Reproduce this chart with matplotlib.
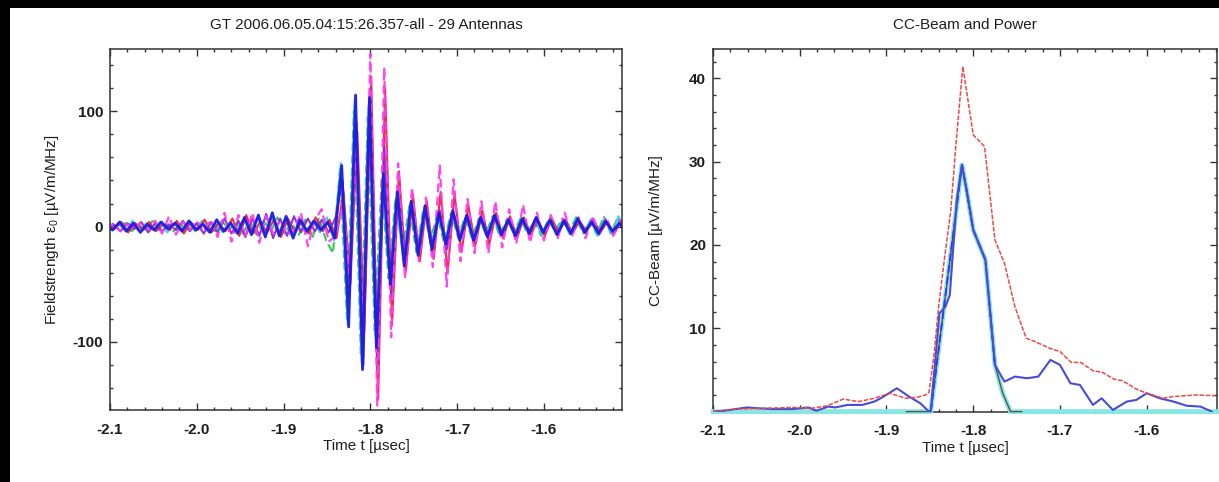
import numpy as np
import matplotlib
matplotlib.use("Agg")
import matplotlib.pyplot as plt
from matplotlib.ticker import MultipleLocator, FixedLocator
from matplotlib.patches import Rectangle

plt.rcParams['font.family'] = ['Liberation Sans', 'DejaVu Sans']
plt.rcParams['axes.unicode_minus'] = False
plt.rcParams['mathtext.default'] = 'regular'

# ---------------------------------------------------------------
# Antenna field strengths (µV/m/MHz), sampled at oscillation extrema
# ---------------------------------------------------------------
t_ant = np.round(-2.105 + 0.008 * np.arange(76), 3)

ant_blue = [2, -3, 4, -4, 3, -5, 2, -3, 4, -2, 3, -4, 5, -3, 2, -5,
            6, -4, 3, -6, 8, -7, 10, -9, 12, -8, 9, -10, 6, -4, 5, -3,
            4, -10, 53, -87, 114, -124, 112, -105, 46, -50, 30, -34,
            22, -25, 18, -20, 12, -15, 14, -12, 10, -12, 8, -9, 10, -7, 6, -8,
            7, -6, 8, -5, 6, -7, 5, -6, 7, -5, 4, -6, 5, -4, 3, -5]
ant_magenta = [-2, 3, -4, 2, -3, 4, -2, 5, -6, 9, -7, 4, -3, 5, -4, 6,
               -9, 12, -13, 10, -8, 12, -14, 9, -6, 5, -7, -4, 12, -17, 6, 15,
               -13, -8, 20, -40, 75, -95, 150, -155, 138, -96, 55, -45,
               34, -30, 25, -35, 53, -52, 41, -30, 24, -23, 22, -23, 22, -18, 15, -15,
               19, -14, 12, -12, 10, -10, 12, -9, 8, -10, 9, -7, 8, -8, 6, -6]
ant_red = [3, -2, 4, -5, 3, -2, 4, -4, 2, -3, 5, -6, 4, -3, 6, -5,
           3, -4, 7, -8, 10, -6, 4, -5, 6, -9, 7, -5, 4, -6, 8, -4,
           6, -10, 30, -50, 82, -92, 130, -150, 120, -85, 48, -38,
           28, -30, 22, -28, 30, -40, 28, -22, 18, -16, 14, -15, 12, -10, 9, -10,
           8, -7, 6, -8, 7, -5, 6, -6, 5, -4, 6, -5, 4, -6, 5, -3]
ant_green = [-3, 4, -2, 3, -4, 2, -3, 5, -3, 2, -4, 3, -5, 4, -2, 3,
             -4, 5, -3, 4, -6, 5, -7, 6, -5, 8, -6, 4, -8, 6, -10, 8,
             -12, -23, 50, -80, 100, -110, 95, -90, 40, -45, 25, -20,
             18, -22, 15, -12, 10, -14, 12, -9, 8, -10, 7, -6, 9, -8, 6, -5,
             7, -6, 5, -8, 6, -4, 7, -5, 8, -6, 5, -7, 9, -6, 8, -10]
ant_cyan = [4, -3, 2, -4, 5, -3, 3, -2, 4, -5, 3, -3, 4, -4, 5, -3,
            2, -5, 4, -3, 6, -5, 8, -7, 9, -6, 7, -8, 5, -6, 4, -5,
            8, -12, 55, -85, 110, -118, 105, -95, 35, -40, 22, -28,
            20, -18, 14, -16, 10, -12, 11, -9, 8, -10, 7, -6, 8, -7, 5, -6,
            7, -5, 6, -7, 5, -4, 6, -7, 8, -5, 6, -8, 7, -6, 9, -7]
ant_purple = [-3, 2, -4, 3, -2, 4, -5, 3, -4, 2, -3, 5, -4, 3, -6, 4,
              -5, 7, -6, 5, -9, 7, -8, 11, -10, 7, -8, 9, -5, 7, -4, 6,
              -5, 8, 40, -60, 90, -120, 120, -125, 70, -60, 30, -25,
              20, -22, 16, -18, 14, -20, 12, -10, 9, -12, 8, -7, 10, -6, 7, -8,
              6, -5, 8, -6, 5, -7, 6, -4, 5, -6, 7, -5, 4, -6, 5, -4]

# relative arrival delays of the plotted antennas (µsec)
ant_delay = {'green': -0.002, 'cyan': -0.001, 'red': 0.002,
             'purple': 0.001, 'magenta': 0.001, 'blue': 0.0}

# ---------------------------------------------------------------
# CC-beam, power beam and pulse fit (µV/m/MHz)
# ---------------------------------------------------------------
t_power = [-2.100, -2.074, -2.039, -2.008, -1.986, -1.968, -1.950, -1.932, -1.914, -1.896,
           -1.887, -1.878, -1.865, -1.855, -1.851, -1.845, -1.840, -1.833, -1.826, -1.820,
           -1.812, -1.800, -1.787, -1.775, -1.764, -1.752, -1.739, -1.731, -1.712, -1.700,
           -1.687, -1.676, -1.662, -1.651, -1.638, -1.628, -1.612, -1.600, -1.581, -1.570,
           -1.543, -1.521]
power = [0.0, 0.3, 0.4, 0.5, 0.4, 0.7, 1.5, 1.2, 1.6, 2.2,
         1.9, 1.6, 1.7, 2.0, 2.3, 7.0, 12.5, 18.5, 24.0, 32.0,
         41.4, 33.2, 31.8, 20.6, 17.8, 12.6, 8.8, 8.5, 7.6, 7.2,
         5.9, 5.9, 4.9, 4.7, 3.9, 3.7, 2.7, 2.2, 1.6, 1.8,
         2.0, 1.9]

t_beam = [-2.100, -2.087, -2.061, -2.048, -2.030, -2.008, -1.990, -1.981, -1.967, -1.959,
          -1.945, -1.928, -1.914, -1.905, -1.888, -1.874, -1.861, -1.852, -1.849, -1.839,
          -1.832, -1.827, -1.819, -1.813, -1.807, -1.800, -1.786, -1.775, -1.764, -1.752,
          -1.738, -1.725, -1.711, -1.700, -1.688, -1.677, -1.662, -1.652, -1.639, -1.623,
          -1.612, -1.600, -1.585, -1.569, -1.554, -1.538, -1.525]
ccbeam = [0.0, 0.1, 0.5, 0.4, 0.3, 0.3, 0.5, 0.1, 0.6, 0.5,
          0.8, 0.8, 1.2, 1.7, 2.8, 1.8, 1.0, 0.1, 0.0, 11.8,
          12.6, 14.0, 25.4, 29.6, 26.2, 21.8, 18.2, 5.6, 3.6, 4.2,
          4.0, 4.2, 6.2, 5.6, 3.4, 3.2, 0.8, 1.6, 0.2, 1.2,
          1.4, 2.2, 1.6, 1.2, 0.7, 0.6, 0.0]

t_fit = [-2.100, -1.849, -1.813, -1.807, -1.800, -1.786, -1.775, -1.766, -1.757, -1.505]
fit = [0.0, 0.0, 29.6, 26.2, 21.8, 18.2, 5.6, 2.2, 0.0, 0.0]

t_gauss = [-1.877, -1.849, -1.813, -1.800, -1.786, -1.775, -1.766, -1.757, -1.744]
gauss = [0.0, 0.0, 29.6, 21.8, 18.2, 5.6, 2.2, 0.0, 0.0]

titles = ['GT 2006.06.05.04:15:26.357-all - 29 Antennas', 'CC-Beam and Power']
xlabel = 'Time t [µsec]'
ylabels = ['Fieldstrength ε$_0$ [µV/m/MHz]', 'CC-Beam [µV/m/MHz]']
xticks = [-2.1, -2.0, -1.9, -1.8, -1.7, -1.6]
yticks_left = [-100, 0, 100]
yticks_right = [10, 20, 30, 40]

# ---------------------------------------------------------------
W, H = 1219, 482
fig = plt.figure(figsize=(W / 100, H / 100), dpi=100)
fig.patch.set_facecolor('white')

FRAME = '#333333'
TXT = '#1e1e1e'


def px_axes(x0, y0, x1, y1):
    return fig.add_axes([x0 / W, 1 - y1 / H, (x1 - x0) / W, (y1 - y0) / H])


def style(ax, xmajor, xminor, ymajor, yminor):
    for s in ax.spines.values():
        s.set_color(FRAME)
        s.set_linewidth(1.1)
    ax.xaxis.set_major_locator(FixedLocator(xmajor))
    ax.xaxis.set_minor_locator(MultipleLocator(xminor))
    ax.yaxis.set_major_locator(FixedLocator(ymajor))
    ax.yaxis.set_minor_locator(MultipleLocator(yminor))
    ax.tick_params(which='both', direction='in', top=True, right=True,
                   color=FRAME, width=1.0, labelcolor=TXT, labelsize=11)
    ax.tick_params(which='major', length=5)
    ax.tick_params(which='minor', length=2.5)
    ax.tick_params(axis='x', which='major', pad=9)
    ax.tick_params(axis='y', which='major', pad=5)
    ax.set_xticklabels([f'{v:.1f}' for v in xmajor])
    for lab in ax.get_xticklabels() + ax.get_yticklabels():
        lab.set_fontweight('bold')
    ax.set_xlabel(xlabel, fontsize=11, color=TXT, va='center')
    ax.xaxis.set_label_coords(0.5, -0.1)


# ---- left: antenna traces ----
axL = px_axes(110, 49, 622, 410)
traces = [('green', ant_green, '#2ec44a', (0, (4, 2)), 1.5),
          ('cyan', ant_cyan, '#2fd3e0', '-', 1.5),
          ('red', ant_red, '#f0203c', '-', 1.5),
          ('purple', ant_purple, '#8a2ccc', '-', 1.5),
          ('magenta', ant_magenta, '#ff3cf0', (0, (4, 2)), 1.6),
          ('blue', ant_blue, '#1c1ce0', '-', 2.0)]
for name, vals, col, ls, lw in traces:
    axL.plot(t_ant + ant_delay[name], vals, color=col, ls=ls, lw=lw, alpha=0.95,
             solid_joinstyle='round', dash_joinstyle='round')
axL.set_xlim(-2.1, -1.51)
axL.set_ylim(-159, 154)
style(axL, xticks, 0.02, yticks_left, 20)
axL.set_ylabel(ylabels[0], fontsize=11, color=TXT, va='center')
axL.yaxis.set_label_coords(-0.113, 0.5)
fig.text((110 + 622) / 2 / W, 1 - 25 / H, titles[0], ha='center', va='center',
         fontsize=11, color=TXT)

# ---- right: CC-beam and power ----
axR = px_axes(713, 49, 1217, 411.6)
axR.plot(t_fit, fit, color='#8ae6e2', lw=3.5, clip_on=False, zorder=3)
axR.plot(t_gauss, gauss, color='#555555', lw=1.0, clip_on=False, zorder=3.2)
m = [(-1.849 <= t <= -1.775) for t in t_fit]
axR.plot(np.array(t_fit)[m], np.array(fit)[m], color='#3a3ad8', lw=1.4,
         ls=(0, (4, 2)), zorder=3.4)
axR.plot(t_beam, ccbeam, color='#4a4ad8', lw=1.5, zorder=3.5)
axR.plot(t_power, power, color='#ee4848', lw=1.1, ls=(0, (3, 1)), zorder=3.6)
axR.set_xlim(-2.1, -1.519)
axR.set_ylim(0, 43.5)
style(axR, xticks, 0.02, yticks_right, 2)
axR.set_ylabel(ylabels[1], fontsize=11, color=TXT, va='center')
axR.yaxis.set_label_coords(-0.113, 0.5)
fig.text((713 + 1217) / 2 / W, 1 - 25 / H, titles[1], ha='center', va='center',
         fontsize=11, color=TXT)

# dark border strips along the top and left edges of the sheet
fig.patches.append(Rectangle((0, 1 - 8 / H), 1, 8 / H, transform=fig.transFigure,
                             facecolor='black', edgecolor='none', zorder=10))
fig.patches.append(Rectangle((0, 0), 10 / W, 1, transform=fig.transFigure,
                             facecolor='black', edgecolor='none', zorder=10))

fig.savefig('out.png', dpi=100, facecolor='white')
